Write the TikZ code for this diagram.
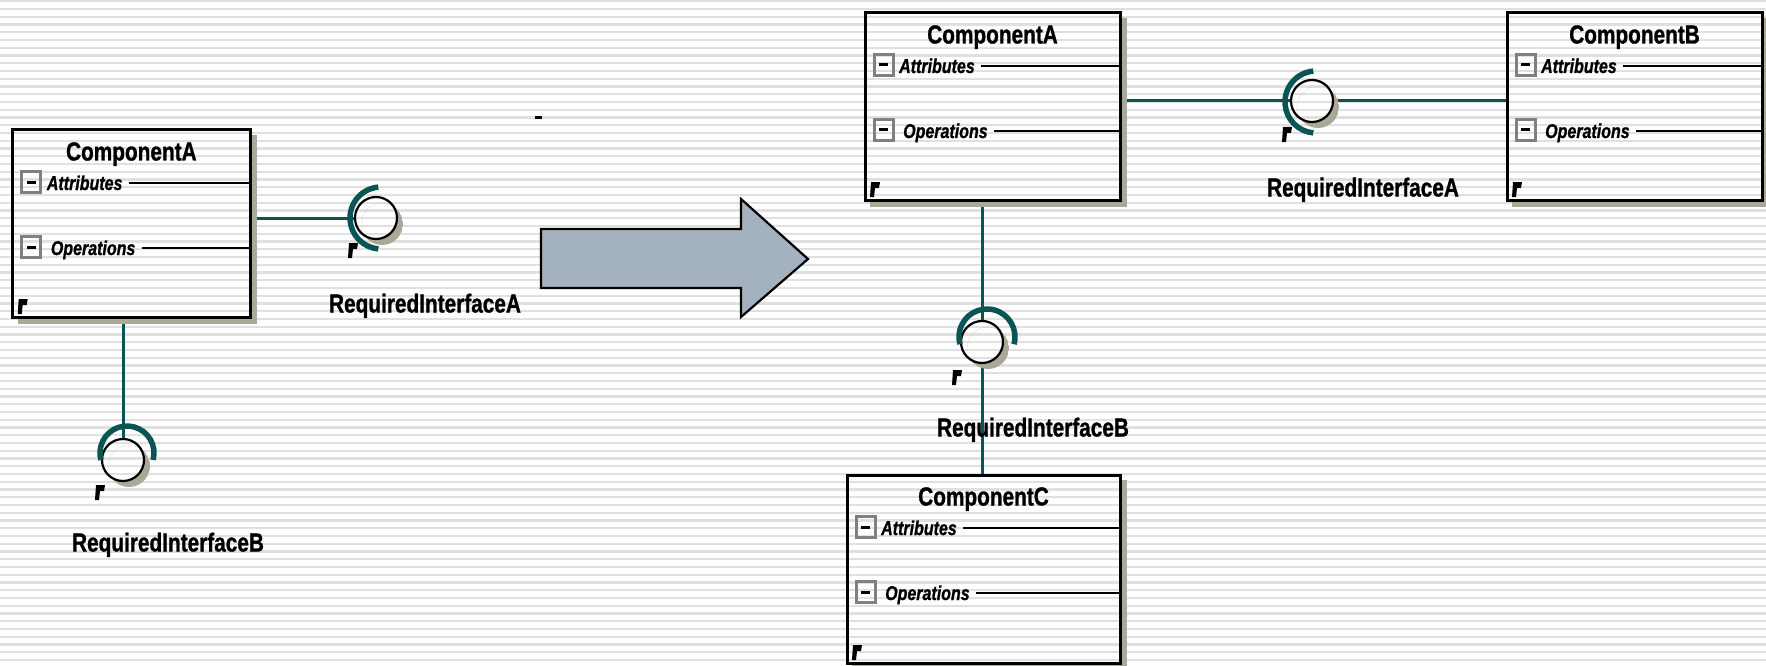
\documentclass[tikz,border=0pt]{standalone}
\usepackage{fontspec}
\setmainfont{Liberation Sans}[BoldFeatures={FakeBold=1.2}, BoldItalicFeatures={FakeBold=1.2}]
\usepackage{graphicx}
\pgfdeclarelayer{back}
\pgfsetlayers{back,main}
\definecolor{teal2}{RGB}{10,84,84}
\definecolor{shad}{RGB}{172,168,152}
\definecolor{stripe}{RGB}{224,224,224}
\definecolor{arrowfill}{RGB}{164,178,192}
\definecolor{mgray}{RGB}{128,128,128}
\newcommand\sq[1]{\scalebox{0.8}[1]{#1}}
\tikzset{
 compbox/.style={draw=black, line width=3pt, inner sep=0pt, outer sep=0pt},
 titletext/.style={inner sep=0pt, text height=19pt, text depth=0pt, font=\fontsize{26}{30}\selectfont\bfseries},
 rowtext/.style={inner sep=0pt, text height=14pt, text depth=0pt, font=\fontsize{20}{24}\selectfont\bfseries\itshape},
 rowline/.style={line width=2.5pt, black},
 minusbox/.style={draw=mgray, line width=3pt, minimum width=19pt, minimum height=21pt, inner sep=0pt},
 conn/.style={draw=teal2, line width=3pt},
 socketarc/.style={draw=teal2, line width=5.5pt},
 ball/.style={circle, draw=black, line width=2.2pt, minimum size=42pt, inner sep=0pt, outer sep=0pt},
 labeltext/.style={inner sep=0pt, text height=19pt, text depth=0pt, font=\fontsize{26}{30}\selectfont\bfseries},
 bigarrow/.style={fill=arrowfill, draw=black, line width=2.2pt, line join=miter},
}
% small black mark, #1 = left x, #2 = top y (pixels, y downward)
\newcommand\fmark[2]{\fill[black] ({#1+1},{-(#2)}) -- ++(9,0) -- ++(-1,-6) -- ++(-4,0) -- ++(-1,-9) -- ++(-4,0) -- cycle;}
% component: name, L, T, R, B, title
\newcommand\comp[6]{%
 \fill[shad] ({#4},{-(#3)-5}) rectangle ({#4+7},{-(#5)-7});
 \fill[shad] ({#2+5},{-(#5)}) rectangle ({#4+7},{-(#5)-7});
 \node[compbox, minimum width={#4-#2}, minimum height={#5-#3}] (#1) at ({(#2+#4)/2},{-(#3+#5)/2}) {};
 \node[titletext] (#1-t) at ({(#2+#4)/2},{-(#3)-21}) {\sq{#6}};
 \node[minusbox] (#1-m1) at ({#2+18.5},{-(#3)-52}) {};
 \draw[line width=3pt] ([xshift=-4.5pt]#1-m1.center) -- ([xshift=4.5pt]#1-m1.center);
 \node[rowtext, anchor=west] (#1-a) at ({#2+34},{-(#3)-53}) {\sq{Attributes}};
 \draw[rowline] ([xshift=6pt]#1-a.east) -- (#1-a.east -| #1.east);
 \node[minusbox] (#1-m2) at ({#2+18.5},{-(#3)-117}) {};
 \draw[line width=3pt] ([xshift=-4.5pt]#1-m2.center) -- ([xshift=4.5pt]#1-m2.center);
 \node[rowtext, anchor=west] (#1-o) at ({#2+38},{-(#3)-118}) {\sq{Operations}};
 \draw[rowline] ([xshift=6pt]#1-o.east) -- (#1-o.east -| #1.east);
 \fmark{#2+5}{#5-18}
}
% socket: name, ball x, ball y, arc cx, arc cy, arc r, start, end
\newcommand\socket[8]{%
 \begin{scope}
  \clip ({#2+6},{-(#3)-6}) circle[radius=21];
  \fill[shad, even odd rule] ({#2+6},{-(#3)-6}) circle[radius=21] ({#2},{-(#3)}) circle[radius=21];
 \end{scope}
 \node[ball] (#1) at ({#2},{-(#3)}) {};
 \draw[socketarc] ({#4+#6*cos(#7)},{-(#5)+#6*sin(#7)}) arc[start angle=#7, end angle=#8, radius=#6];
}
\begin{document}
\begin{tikzpicture}[x=1pt,y=1pt]
\useasboundingbox (0,0) rectangle (1766,-666);
\begin{pgfonlayer}{back}
 \fill[white] (0,0) rectangle (1766,-666);
 \foreach \i in {0,...,86} \fill[stripe] (0,{-(0.1+7.75*\i)}) rectangle (1766,{-(2.3+7.75*\i)});
\end{pgfonlayer}

% components
\comp{cA}{12.7}{130}{250}{317}{ComponentA}
\comp{cA2}{865}{13}{1120}{200}{ComponentA}
\comp{cB}{1507}{13}{1762}{200}{ComponentB}
\comp{cC}{847}{475}{1120}{663}{ComponentC}

% sockets
\socket{iA}{376}{218}{381}{218}{31}{95}{265}
\socket{iB}{123}{460}{127}{453}{27}{-15}{195}
\socket{iA2}{1312}{101}{1316}{102}{31}{95}{265}
\socket{iB2}{982}{342}{987}{337}{28}{-15}{195}
\fmark{348}{243}
\fmark{95}{485}
\fmark{1282}{127}
\fmark{952}{370}

% connectors
\begin{pgfonlayer}{back}
 \draw[conn] (cA.east |- iA) -- (iA.west);
 \draw[conn] (iB |- cA.south) -- (iB.north);
 \draw[conn] (cA2.east |- iA2) -- (iA2.west);
 \draw[conn] (iA2.east) -- (cB.west |- iA2);
 \draw[conn] (iB2 |- cA2.south) -- (iB2.north);
 \draw[conn] (iB2.south) -- (iB2 |- cC.north);
\end{pgfonlayer}

% labels
\node[labeltext] (lA) at (425,-303) {\sq{RequiredInterfaceA}};
\node[labeltext] (lB) at (168,-542) {\sq{RequiredInterfaceB}};
\node[labeltext] (lA2) at (1363,-187) {\sq{RequiredInterfaceA}};
\node[labeltext] (lB2) at (1033,-427) {\sq{RequiredInterfaceB}};

% big arrow
\draw[bigarrow] (541,-229) -- (741,-229) -- (741,-199) -- (808,-259) -- (741,-317) -- (741,-288) -- (541,-288) -- cycle;

% small dash
\fill[black] (535,-116) rectangle (542,-119.5);
\end{tikzpicture}
\end{document}
